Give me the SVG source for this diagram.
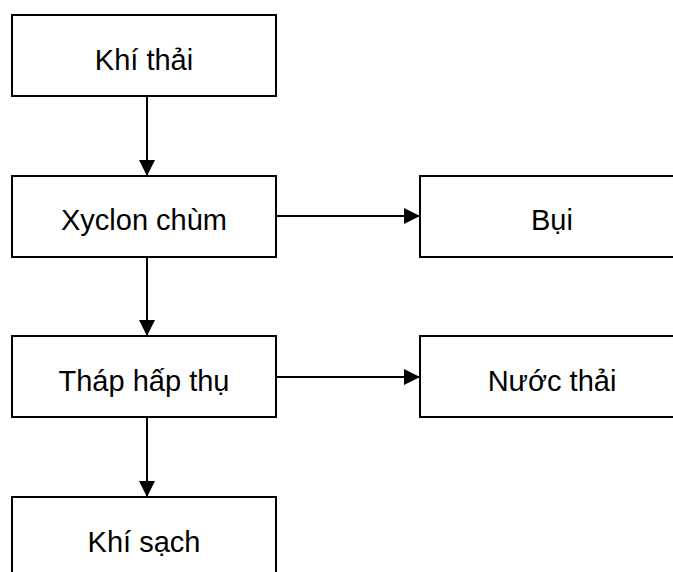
<svg xmlns="http://www.w3.org/2000/svg" width="673" height="572" viewBox="0 0 673 572">
<style>
.box{fill:#fff;stroke:#000;stroke-width:2}
.lbl{font-family:"Liberation Sans",Arial,sans-serif;font-size:29px;fill:#000;text-anchor:middle}
.edge{stroke:#000;stroke-width:2;fill:none}
</style>
<defs>
<marker id="ah" viewBox="0 0 16 16" refX="16" refY="8" markerWidth="16" markerHeight="16" markerUnits="userSpaceOnUse" orient="auto">
<path d="M0,0 L16,8 L0,16 Z" fill="#000"/>
</marker>
</defs>
<rect width="673" height="572" fill="#fff"/>
<g id="connectors">
<line class="edge" x1="147" y1="96" x2="147" y2="176" marker-end="url(#ah)"/>
<line class="edge" x1="147" y1="257" x2="147" y2="336" marker-end="url(#ah)"/>
<line class="edge" x1="147" y1="417" x2="147" y2="497" marker-end="url(#ah)"/>
<line class="edge" x1="276" y1="216" x2="420" y2="216" marker-end="url(#ah)"/>
<line class="edge" x1="276" y1="377" x2="420" y2="377" marker-end="url(#ah)"/>
</g>
<g id="khi-thai">
<rect class="box" x="12" y="15" width="264" height="81"/>
<text class="lbl" x="144" y="70">Khí thải</text>
</g>
<g id="xyclon-chum">
<rect class="box" x="12" y="176" width="264" height="81"/>
<text class="lbl" x="144" y="230">Xyclon chùm</text>
</g>
<g id="bui">
<rect class="box" x="420" y="176" width="264" height="81"/>
<text class="lbl" x="552" y="230">Bụi</text>
</g>
<g id="thap-hap-thu">
<rect class="box" x="12" y="336" width="264" height="81"/>
<text class="lbl" x="144" y="391">Tháp hấp thụ</text>
</g>
<g id="nuoc-thai">
<rect class="box" x="420" y="336" width="264" height="81"/>
<text class="lbl" x="552" y="391">Nước thải</text>
</g>
<g id="khi-sach">
<rect class="box" x="12" y="497" width="264" height="81"/>
<text class="lbl" x="144" y="552">Khí sạch</text>
</g>
</svg>
